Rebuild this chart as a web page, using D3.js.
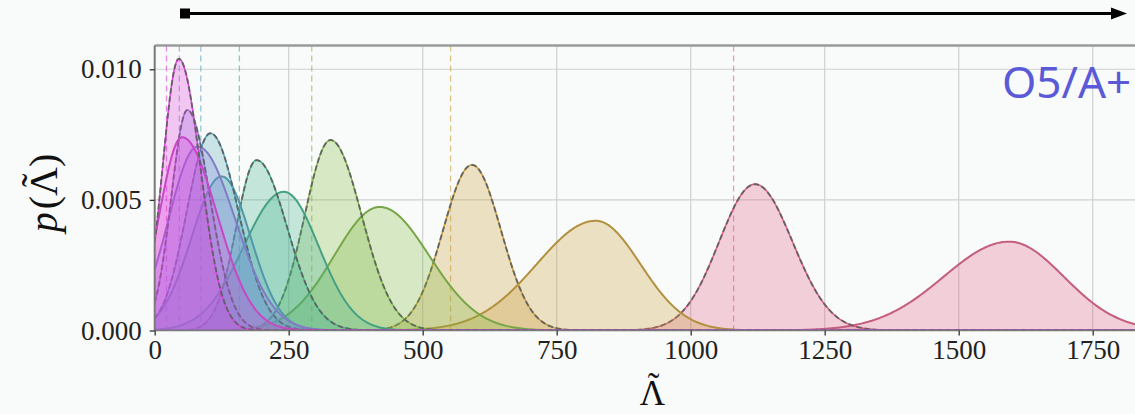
<!DOCTYPE html>
<html><head><meta charset="utf-8">
<script src="https://cdn.jsdelivr.net/npm/d3@7"></script>
<style>
html,body{margin:0;padding:0;background:#f8fbf9;}
svg{display:block;}
</style></head><body>
<svg id="chart" width="1135" height="414"></svg>
<script>
// Axis ticks
const xTicks = [0, 250, 500, 750, 1000, 1250, 1500, 1750];
const yTicks = [0, 0.005, 0.010];

// One colour per population, from the softest to the stiffest
const seriesColors = ["#e03ee0", "#8a80e2", "#4ea4bc", "#3cb08c", "#7cb83e", "#c89c34", "#e05a86"];

// Injected values (vertical dashed markers)
const referenceValues = [22, 46, 86, 158, 293, 552, 1080];

// Narrow posteriors (dashed outline): mode, peak density, left / right widths
const narrowMode = [45, 61, 104, 190, 328, 592, 1120];
const narrowPeak = [0.0104, 0.00844, 0.00755, 0.00652, 0.00729, 0.00634, 0.0056];
const narrowSdLeft = [30, 30, 44, 38, 48, 54, 67];
const narrowSdRight = [40, 42, 52, 57, 58, 54, 70];

// Broad posteriors (solid outline)
const wideMode = [51, 80, 125, 241, 420, 823, 1594];
const widePeak = [0.0074, 0.00704, 0.0059, 0.00531, 0.00473, 0.0042, 0.0034];
const wideSdLeft = [42, 54, 56, 75, 85, 110, 122];
const wideSdRight = [65, 70, 54, 65, 92, 83, 102];

const panelLabel = "O5/A+";

const svg = d3.select("#chart");
const xMax = 1850, yMax = 0.01091;
const x = d3.scaleLinear().domain([0, xMax]).range([154.7, 1146.3]);
const y = d3.scaleLinear().domain([0, yMax]).range([330.5, 45.5]);

// split-normal density profile
function profile(mode, peak, sl, sr) {
  const grid = d3.range(0, xMax + 1, 2);
  return grid.map(v => {
    const s = v < mode ? sl : sr;
    return [v, peak * Math.exp(-((v - mode) ** 2) / (2 * s * s))];
  });
}

svg.append("defs").append("clipPath").attr("id", "plotClip")
  .append("rect")
  .attr("x", x(0)).attr("y", y(yMax))
  .attr("width", x(xMax) - x(0)).attr("height", y(0) - y(yMax));

// grid
const grid = svg.append("g");
grid.selectAll("line.vx").data(xTicks).join("line")
  .attr("x1", d => x(d)).attr("x2", d => x(d))
  .attr("y1", y(yMax)).attr("y2", y(0))
  .attr("stroke", "#cfd1d0").attr("stroke-width", 1.2);
grid.selectAll("line.hy").data(yTicks).join("line")
  .attr("x1", x(0)).attr("x2", x(xMax))
  .attr("y1", d => y(d)).attr("y2", d => y(d))
  .attr("stroke", "#cfd1d0").attr("stroke-width", 1.2);

const plot = svg.append("g").attr("clip-path", "url(#plotClip)");

// injected-value markers
plot.selectAll("line.ref").data(referenceValues).join("line")
  .attr("x1", d => x(d)).attr("x2", d => x(d))
  .attr("y1", y(yMax)).attr("y2", y(0))
  .attr("stroke", (d, i) => seriesColors[i])
  .attr("stroke-opacity", 0.6)
  .attr("stroke-width", 1.3)
  .attr("stroke-dasharray", "6,4");

const area = d3.area().x(d => x(d[0])).y0(y(0)).y1(d => y(d[1]));
const line = d3.line().x(d => x(d[0])).y(d => y(d[1]));

const order = d3.range(seriesColors.length).reverse();
order.forEach(i => {
  const c = seriesColors[i];
  const wide = profile(wideMode[i], widePeak[i], wideSdLeft[i], wideSdRight[i]);
  const narrow = profile(narrowMode[i], narrowPeak[i], narrowSdLeft[i], narrowSdRight[i]);
  const g = plot.append("g");
  g.append("path").datum(wide).attr("d", area).attr("fill", c).attr("fill-opacity", 0.28);
  g.append("path").datum(narrow).attr("d", area).attr("fill", c).attr("fill-opacity", 0.28);
  g.append("path").datum(wide).attr("d", line).attr("fill", "none")
    .attr("stroke", c).attr("stroke-width", 2);
  g.append("path").datum(wide).attr("d", line).attr("fill", "none")
    .attr("stroke", "#707070").attr("stroke-opacity", 0.3).attr("stroke-width", 1.5);
  g.append("path").datum(narrow).attr("d", line).attr("fill", "none")
    .attr("stroke", c).attr("stroke-width", 1.5);
  g.append("path").datum(narrow).attr("d", line).attr("fill", "none")
    .attr("stroke", "#5e5e5e").attr("stroke-opacity", 0.9).attr("stroke-width", 1.9)
    .attr("stroke-dasharray", "5.5,2.8");
});

// spines
svg.append("line").attr("x1", x(0)).attr("x2", x(xMax)).attr("y1", y(yMax)).attr("y2", y(yMax))
  .attr("stroke", "#9a9a9a").attr("stroke-width", 2.4);
svg.append("line").attr("x1", x(0)).attr("x2", x(0)).attr("y1", y(yMax)).attr("y2", y(0))
  .attr("stroke", "#7a7a7a").attr("stroke-width", 2);
svg.append("line").attr("x1", x(0)).attr("x2", x(xMax)).attr("y1", y(0)).attr("y2", y(0))
  .attr("stroke", "#7a7a7a").attr("stroke-width", 1.5);

// axes
const fontSerif = "'Liberation Serif', 'DejaVu Serif', serif";
const xAxis = svg.append("g").attr("transform", `translate(0,${y(0)})`)
  .call(d3.axisBottom(x).tickValues(xTicks).tickSize(5).tickPadding(4).tickFormat(d3.format("d")));
const yAxis = svg.append("g").attr("transform", `translate(${x(0)},0)`)
  .call(d3.axisLeft(y).tickValues(yTicks).tickSize(5).tickPadding(8).tickFormat(d3.format(".3f")));
[xAxis, yAxis].forEach(a => {
  a.select(".domain").remove();
  a.selectAll(".tick line").attr("stroke", "#333").attr("stroke-width", 1.3);
  a.selectAll(".tick text").attr("font-family", fontSerif).attr("font-size", 27).attr("fill", "#222");
});

// Writes a label as one text element, with a tilde tspan centred over character `charIdx`
function labelWithTilde(parent, parts, charIdx, size) {
  const t = parent.append("text").attr("font-family", fontSerif).attr("font-size", size)
    .attr("fill", "#111").attr("text-anchor", "middle");
  parts.forEach(p => t.append("tspan").attr("font-style", p.italic ? "italic" : "normal")
    .attr("dx", p.dx || 0).text(p.s));
  const n = t.node();
  const a = n.getStartPositionOfChar(charIdx), b = n.getEndPositionOfChar(charIdx);
  t.append("tspan")
    .attr("x", (a.x + b.x) / 2 + size * 0.03).attr("y", -size * 0.2)
    .text("\u02DC");
}

// axis labels
const xl = svg.append("g").attr("transform", `translate(${x(xMax / 2) + 2},405)`);
labelWithTilde(xl, [{s: "Λ"}], 0, 35);
const yl = svg.append("g").attr("transform", "translate(57,193) rotate(-90)");
labelWithTilde(yl, [{s: "p", italic: true}, {s: "(Λ)", dx: 3}], 2, 40);

// panel tag
svg.append("text").attr("x", 1002).attr("y", 98)
  .attr("font-family", "'Noto Sans', sans-serif").attr("font-size", 44).attr("fill", "#5a5ad8")
  .text(panelLabel);

// direction arrow above the panel
const arrow = svg.append("g");
arrow.append("line").attr("x1", 185).attr("x2", 1114).attr("y1", 13.5).attr("y2", 13.5)
  .attr("stroke", "#000").attr("stroke-width", 3);
arrow.append("rect").attr("x", 180).attr("y", 8.5).attr("width", 10).attr("height", 10).attr("fill", "#000");
arrow.append("path").attr("d", "M1111,7.5 L1127,13.5 L1111,19.5 Z").attr("fill", "#000");
</script>
</body></html>
